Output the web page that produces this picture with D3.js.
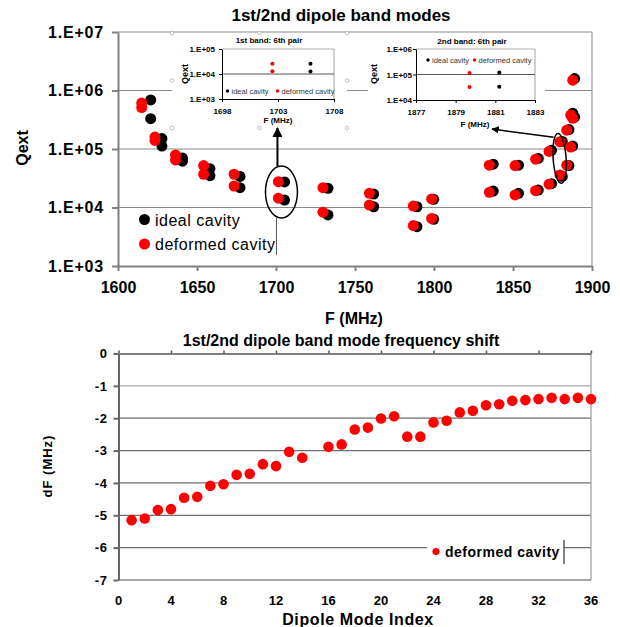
<!DOCTYPE html>
<html>
<head>
<meta charset="utf-8">
<script src="https://cdn.jsdelivr.net/npm/d3@7"></script>
<style>
  body { margin: 0; background: #fff; }
  svg text { font-family: "Liberation Sans", Arial, sans-serif; }
</style>
</head>
<body>
<svg id="chart" width="620" height="627"></svg>
<script>
// ---------- top chart: Qext vs F, one value per dipole mode pair ----------
const fTicks = [1600, 1650, 1700, 1750, 1800, 1850, 1900];
const qTicks = [1e3, 1e4, 1e5, 1e6, 1e7];
const qTickLabels = ["1.E+03", "1.E+04", "1.E+05", "1.E+06", "1.E+07"];

const idealF = [1620.7, 1627.8, 1640.8, 1658.2, 1677.2, 1705.4, 1732.9, 1761.8, 1789.2,
                1799.8, 1837.5, 1853.5, 1866.0, 1874.4, 1881.2, 1885.4, 1887.8, 1889.0];
const idealQa = [6.9e5, 1.51e5, 7.0e4, 4.6e4, 3.4e4, 2.73e4, 2.13e4, 1.7e4, 1.03e4,
                 1.38e4, 5.5e4, 5.3e4, 6.9e4, 9.5e4, 1.35e5, 2.15e5, 4.1e5, 1.6e6];
const idealQb = [3.3e5, 1.12e5, 6.2e4, 3.5e4, 2.18e4, 1.34e4, 7.45e3, 1.03e4, 4.7e3,
                 6.3e3, 1.91e4, 1.75e4, 1.99e4, 2.55e4, 3.4e4, 5.2e4, 1.12e5, 3.5e5];

const deformedF = [1615.0, 1623.4, 1636.4, 1654.2, 1673.5, 1701.5, 1729.7, 1759.1, 1786.9,
                   1798.5, 1835.0, 1851.3, 1864.3, 1872.8, 1879.7, 1884.0, 1886.5, 1887.8];
const deformedQa = [6.1e5, 1.6e5, 7.9e4, 5.2e4, 3.7e4, 2.76e4, 2.18e4, 1.75e4, 1.06e4,
                    1.4e4, 5.3e4, 5.2e4, 6.7e4, 9.1e4, 1.33e5, 2.1e5, 3.8e5, 1.5e6];
const deformedQb = [5.1e5, 1.4e5, 6.5e4, 3.7e4, 2.33e4, 1.44e4, 8.3e3, 1.1e4, 4.9e3,
                    6.5e3, 1.82e4, 1.64e4, 1.94e4, 2.5e4, 3.6e4, 5.3e4, 1.08e5, 3.35e5];

// insets (6th pair of each band)
const inset1FTicks = [1698, 1703, 1708];
const inset1QTicks = [1e3, 1e4, 1e5];
const inset1QLabels = ["1.E+03", "1.E+04", "1.E+05"];
const inset1IdealF = [1705.9, 1705.9];
const inset1IdealQ = [2.6e4, 1.25e4];
const inset1DeformedF = [1702.5, 1702.5];
const inset1DeformedQ = [2.6e4, 1.3e4];

const inset2FTicks = [1877, 1879, 1881, 1883];
const inset2QTicks = [1e4, 1e5, 1e6];
const inset2QLabels = ["1.E+04", "1.E+05", "1.E+06"];
const inset2IdealF = [1881.2, 1881.2];
const inset2IdealQ = [1.2e5, 3.3e4];
const inset2DeformedF = [1879.7, 1879.7];
const inset2DeformedQ = [1.15e5, 3.2e4];

// ---------- bottom chart: frequency shift per dipole mode ----------
const modeIndex = [1, 2, 3, 4, 5, 6, 7, 8, 9, 10, 11, 12, 13, 14,
                   16, 17, 18, 19, 20, 21, 22, 23, 24, 25, 26, 27, 28, 29, 30,
                   31, 32, 33, 34, 35, 36];
const freqShift = [-5.15, -5.10, -4.84, -4.81, -4.46, -4.43, -4.09, -4.04, -3.75, -3.72,
                   -3.42, -3.48, -3.04, -3.22,
                   -2.88, -2.81, -2.35, -2.29, -2.01, -1.94, -2.57, -2.57, -2.13, -2.08,
                   -1.82, -1.77, -1.60, -1.57, -1.46, -1.44, -1.41, -1.37, -1.41, -1.37, -1.41];
const indexTicks = [0, 4, 8, 12, 16, 20, 24, 28, 32, 36];
const shiftTicks = [0, -1, -2, -3, -4, -5, -6, -7];

const svg = d3.select("#chart");
const RED = "#ff0000";

function styleAxis(a, size, color, width) {
  a.select(".domain").attr("stroke", color).attr("stroke-width", width);
  a.selectAll(".tick line").attr("stroke", color).attr("stroke-width", width);
  a.selectAll("text").attr("font-size", size).attr("font-weight", "bold").attr("fill", "#000");
}

// ================= top chart =================
const x = d3.scaleLinear().domain([1600, 1900]).range([118, 592]);
const y = d3.scaleLog().domain([1e3, 1e7]).range([266, 32]);
const g1 = svg.append("g");

g1.selectAll(".grid").data(qTicks.slice(1)).join("line")
  .attr("x1", x(1600)).attr("x2", x(1900))
  .attr("y1", d => y(d)).attr("y2", d => y(d))
  .attr("stroke", "#8a8a8a").attr("stroke-width", 1.2);
g1.append("line")
  .attr("x1", x(1900)).attr("x2", x(1900)).attr("y1", y(1e7)).attr("y2", y(1e3))
  .attr("stroke", "#9a9a9a").attr("stroke-width", 1.2);

const yAx = g1.append("g").attr("transform", `translate(${x(1600)},0)`)
  .call(d3.axisLeft(y).tickValues(qTicks).tickFormat((d, i) => qTickLabels[i])
    .tickSize(6).tickSizeOuter(0).tickPadding(8));
styleAxis(yAx, 16, "#808080", 2);
yAx.selectAll("text").attr("letter-spacing", 0.8);

const xAx = g1.append("g").attr("transform", `translate(0,${y(1e3)})`)
  .call(d3.axisBottom(x).tickValues(fTicks).tickFormat(d3.format("d"))
    .tickSize(5).tickSizeOuter(0).tickPadding(11));
styleAxis(xAx, 16, "#808080", 2);

g1.append("text").attr("x", 341).attr("y", 21).attr("text-anchor", "middle")
  .attr("font-size", 17).attr("font-weight", "bold").text("1st/2nd dipole band modes");
g1.append("text").attr("x", 354).attr("y", 324).attr("text-anchor", "middle")
  .attr("font-size", 16).attr("font-weight", "bold").text("F (MHz)");
g1.append("text").attr("transform", "translate(28,148) rotate(-90)").attr("text-anchor", "middle")
  .attr("font-size", 16).attr("font-weight", "bold").text("Qext");

// insets
function drawInset(o) {
  const gx = d3.scaleLinear().domain(d3.extent(o.fTicks)).range(o.xr);
  const gy = d3.scaleLog().domain(d3.extent(o.qTicks)).range(o.yr);
  const g = svg.append("g");
  g.append("rect").attr("x", o.box[0]).attr("y", o.box[1])
    .attr("width", o.box[2] - o.box[0]).attr("height", o.box[3] - o.box[1]).attr("fill", "#fff");
  if (o.handles) {
    const hx = [o.box[0], (o.box[0] + o.box[2]) / 2, o.box[2]];
    const hy = [o.box[1], (o.box[1] + o.box[3]) / 2, o.box[3]];
    const pts = [];
    hx.forEach((a, i) => hy.forEach((b, j) => { if (!(i === 1 && j === 1)) pts.push([a, b]); }));
    g.selectAll(".h").data(pts).join("circle").attr("cx", d => d[0]).attr("cy", d => d[1])
      .attr("r", 1.8).attr("fill", "#fff").attr("stroke", "#b0b0b0").attr("stroke-width", 0.8);
  }
  g.append("line").attr("x1", o.xr[0]).attr("x2", o.xr[1]).attr("y1", o.yr[1]).attr("y2", o.yr[1])
    .attr("stroke", "#b0b0b0");
  g.append("line").attr("x1", o.xr[1]).attr("x2", o.xr[1]).attr("y1", o.yr[1]).attr("y2", o.yr[0])
    .attr("stroke", "#a0a0a0");
  g.append("line").attr("x1", o.xr[0]).attr("x2", o.xr[1])
    .attr("y1", gy(o.qTicks[1])).attr("y2", gy(o.qTicks[1])).attr("stroke", "#555");
  const ay = g.append("g").attr("transform", `translate(${o.xr[0]},0)`)
    .call(d3.axisLeft(gy).tickValues(o.qTicks).tickFormat((d, i) => o.qLabels[i])
      .tickSize(3).tickSizeOuter(0).tickPadding(o.pad));
  styleAxis(ay, 8, "#000", 1);
  const ax = g.append("g").attr("transform", `translate(0,${o.yr[0]})`)
    .call(d3.axisBottom(gx).tickValues(o.fTicks).tickFormat(d3.format("d"))
      .tickSize(3).tickSizeOuter(0).tickPadding(6));
  styleAxis(ax, 8, "#000", 1);
  g.append("text").attr("x", o.title[0]).attr("y", o.title[1]).attr("text-anchor", "middle")
    .attr("font-size", 8).attr("font-weight", "bold").text(o.title[2]);
  g.append("text").attr("x", (o.xr[0] + o.xr[1]) / 2 + o.fx).attr("y", o.fy).attr("text-anchor", "middle")
    .attr("font-size", 8).attr("font-weight", "bold").text("F (MHz)");
  g.append("text").attr("transform", `translate(${o.qx},${o.qy}) rotate(-90)`).attr("text-anchor", "middle")
    .attr("font-size", 9).attr("font-weight", "bold").text("Qext");
  // legend
  const lg = g.append("g").attr("transform", `translate(${o.leg[0]},${o.leg[1]})`);
  lg.append("circle").attr("cx", 0).attr("cy", 0).attr("r", 1.7).attr("fill", "#000");
  lg.append("text").attr("x", 4).attr("y", 2.6).attr("font-size", 7.5).attr("fill", "#333").text("ideal cavity");
  lg.append("circle").attr("cx", o.leg[2]).attr("cy", 0).attr("r", 1.7).attr("fill", RED);
  lg.append("text").attr("x", o.leg[2] + 4).attr("y", 2.6).attr("font-size", 7.5).attr("fill", "#333").text("deformed cavity");
  // points
  g.selectAll(".pi").data(d3.zip(o.idealF, o.idealQ)).join("circle")
    .attr("cx", d => gx(d[0])).attr("cy", d => gy(d[1])).attr("r", 2).attr("fill", "#000");
  g.selectAll(".pd").data(d3.zip(o.defF, o.defQ)).join("circle")
    .attr("cx", d => gx(d[0])).attr("cy", d => gy(d[1])).attr("r", 2).attr("fill", RED);
}

drawInset({
  box: [172, 33, 347, 128], handles: true, xr: [222, 334], yr: [99, 49], pad: 4,
  fTicks: inset1FTicks, qTicks: inset1QTicks, qLabels: inset1QLabels,
  idealF: inset1IdealF, idealQ: inset1IdealQ, defF: inset1DeformedF, defQ: inset1DeformedQ,
  title: [269, 43, "1st band: 6th pair"], fx: 0, fy: 123, qx: 188, qy: 74, leg: [227.5, 91, 50]
});
drawInset({
  box: [368, 33, 545, 130], handles: false, xr: [416, 535], yr: [100, 49], pad: 1,
  fTicks: inset2FTicks, qTicks: inset2QTicks, qLabels: inset2QLabels,
  idealF: inset2IdealF, idealQ: inset2IdealQ, defF: inset2DeformedF, defQ: inset2DeformedQ,
  title: [472, 44, "2nd band: 6th pair"], fx: -0.5, fy: 127, qx: 377, qy: 74, leg: [428, 60, 46.5]
});

// main points: ideal underneath, deformed on top
const ideal = idealF.flatMap((f, i) => [[f, idealQa[i]], [f, idealQb[i]]]);
const deformed = deformedF.flatMap((f, i) => [[f, deformedQa[i]], [f, deformedQb[i]]]);
g1.append("g").selectAll("circle").data(ideal).join("circle")
  .attr("cx", d => x(d[0])).attr("cy", d => y(d[1])).attr("r", 5.5).attr("fill", "#000");
const g1d = svg.append("g");
g1d.selectAll("circle").data(deformed).join("circle")
  .attr("cx", d => x(d[0])).attr("cy", d => y(d[1])).attr("r", 5.5).attr("fill", RED);

// annotations: ellipses round the 6th pairs and arrows to insets
svg.append("defs").append("marker").attr("id", "ah").attr("viewBox", "0 0 10 10")
  .attr("refX", 9).attr("refY", 5).attr("markerWidth", 5).attr("markerHeight", 5)
  .attr("orient", "auto").append("path").attr("d", "M0,0L10,5L0,10z").attr("fill", "#000");
const ann = svg.append("g");
const e1x = x((idealF[5] + deformedF[5]) / 2), e1y = y(Math.sqrt(idealQa[5] * idealQb[5]));
ann.append("ellipse").attr("cx", e1x).attr("cy", e1y + 1).attr("rx", 16).attr("ry", 26)
  .attr("fill", "none").attr("stroke", "#000").attr("stroke-width", 1.5);
ann.append("line").attr("x1", e1x - 4).attr("x2", e1x - 4).attr("y1", e1y - 25).attr("y2", 128)
  .attr("stroke", "#000").attr("stroke-width", 2).attr("marker-end", "url(#ah)");
ann.append("line").attr("x1", e1x - 5).attr("x2", e1x - 5).attr("y1", e1y + 27).attr("y2", 255)
  .attr("stroke", "#555").attr("stroke-width", 1);
const e2x = x((idealF[14] + deformedF[14]) / 2) - 1.5, e2y = y(Math.sqrt(deformedQa[14] * deformedQb[14]));
ann.append("ellipse").attr("cx", e2x).attr("cy", e2y).attr("rx", 6.5).attr("ry", 25)
  .attr("transform", `rotate(-4,${e2x},${e2y})`)
  .attr("fill", "none").attr("stroke", "#000").attr("stroke-width", 1.5);
ann.append("line").attr("x1", e2x - 6).attr("y1", e2y - 21).attr("x2", 492).attr("y2", 129)
  .attr("stroke", "#000").attr("stroke-width", 1.5).attr("marker-end", "url(#ah)");

// main legend
const lg1 = svg.append("g").attr("transform", "translate(144.5,219.5)");
lg1.append("circle").attr("r", 5.5).attr("fill", "#000");
lg1.append("text").attr("x", 10.5).attr("y", 6).attr("font-size", 16).attr("letter-spacing", 0.5).text("ideal cavity");
lg1.append("circle").attr("cy", 24.5).attr("r", 5.5).attr("fill", RED);
lg1.append("text").attr("x", 10.5).attr("y", 30.5).attr("font-size", 16).attr("letter-spacing", 0.5).text("deformed cavity");

// ================= bottom chart =================
const x2 = d3.scaleLinear().domain([0, 36]).range([118.5, 591]);
const y2 = d3.scaleLinear().domain([-7, 0]).range([580, 353.5]);
const g2 = svg.append("g");

g2.selectAll(".grid").data(shiftTicks.slice(1, -1)).join("line")
  .attr("x1", x2(0)).attr("x2", x2(36)).attr("y1", d => y2(d)).attr("y2", d => y2(d))
  .attr("stroke", (d, i) => i === 0 ? "#a8a8a8" : "#6e6e6e").attr("stroke-width", 1.2);
g2.append("line").attr("x1", x2(36)).attr("x2", x2(36)).attr("y1", y2(0)).attr("y2", y2(-7))
  .attr("stroke", "#9a9a9a").attr("stroke-width", 1.2);
g2.append("line").attr("x1", x2(0)).attr("x2", x2(36)).attr("y1", y2(-7)).attr("y2", y2(-7))
  .attr("stroke", "#8a8a8a").attr("stroke-width", 1.5);

const topAx = g2.append("g").attr("transform", `translate(0,${y2(0)})`)
  .call(d3.axisTop(x2).tickValues(indexTicks).tickFormat("").tickSize(3).tickSizeOuter(0));
styleAxis(topAx, 13, "#555", 1.5);
const leftAx = g2.append("g").attr("transform", `translate(${x2(0)},0)`)
  .call(d3.axisLeft(y2).tickValues(shiftTicks).tickFormat(d3.format("d")).tickSize(5).tickSizeOuter(0).tickPadding(6));
styleAxis(leftAx, 13, "#666", 2);
leftAx.selectAll("text").text(d => d === 0 ? "0" : "-" + Math.abs(d)).attr("letter-spacing", 0.6);

g2.selectAll(".xl").data(indexTicks).join("text")
  .attr("x", d => x2(d)).attr("y", 605).attr("text-anchor", "middle")
  .attr("font-size", 13).attr("font-weight", "bold").text(d => d);

g2.append("text").attr("x", 341).attr("y", 346).attr("text-anchor", "middle")
  .attr("font-size", 16).attr("font-weight", "bold").text("1st/2nd dipole band mode frequency shift");
g2.append("text").attr("x", 358).attr("y", 625).attr("text-anchor", "middle")
  .attr("font-size", 16).attr("font-weight", "bold").attr("letter-spacing", 0.6).text("Dipole Mode Index");
g2.append("text").attr("transform", "translate(52,466) rotate(-90)").attr("text-anchor", "middle")
  .attr("font-size", 13).attr("font-weight", "bold").attr("letter-spacing", 1).text("dF (MHz)");

// legend box interrupts the -6 gridline
const lg2 = g2.append("g");
lg2.append("rect").attr("x", 427).attr("y", 540).attr("width", 137).attr("height", 24).attr("fill", "#fff");
lg2.append("line").attr("x1", 564).attr("x2", 564).attr("y1", 540).attr("y2", 564).attr("stroke", "#333").attr("stroke-width", 1.2);
lg2.append("circle").attr("cx", 436).attr("cy", 551.5).attr("r", 3.6).attr("fill", RED);
lg2.append("text").attr("x", 445).attr("y", 556.5).attr("font-size", 14).attr("font-weight", "bold")
  .attr("letter-spacing", 0.5).text("deformed cavity");

g2.append("g").selectAll("circle").data(d3.zip(modeIndex, freqShift)).join("circle")
  .attr("cx", d => x2(d[0])).attr("cy", d => y2(d[1])).attr("r", 5.3).attr("fill", RED);
</script>
</body>
</html>
